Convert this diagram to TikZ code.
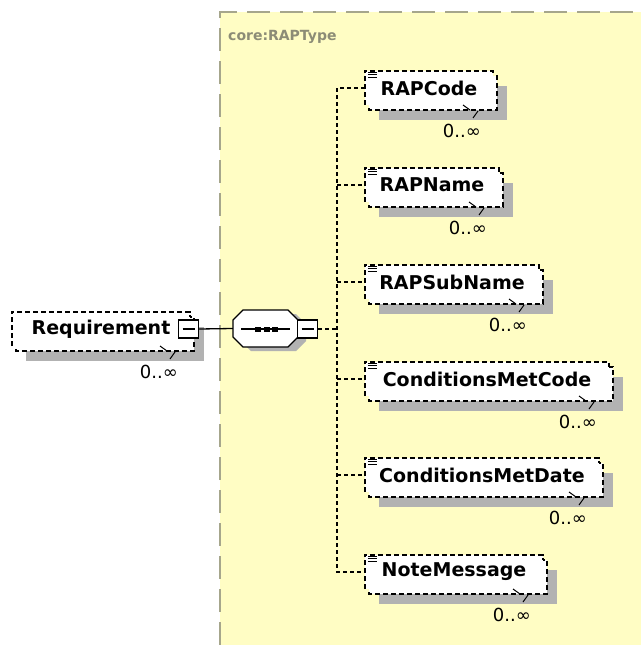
\documentclass[tikz,border=0pt]{standalone}
\usepackage{fontspec}
\setmainfont{DejaVu Sans}
\usetikzlibrary{calc}
\definecolor{bgy}{RGB}{255,253,196}
\definecolor{frameg}{RGB}{166,166,140}
\definecolor{shad}{RGB}{178,178,178}
\definecolor{typeg}{RGB}{140,140,118}
\newcommand\xsElem[5]{%
  \fill[shad] (#3+14,#4-2) rectangle (#5+14,#4+32);
  \draw[elemline,fill=white] (#3+4,#4-12) rectangle (#5+4,#4+22);
  \node[elem, minimum width={#5-(#3)}] (#1) at ({(#3+#5)/2},#4) {#2};
  \draw[elemline] (#1.south west) -- (#1.north west) -- (#1.north east) -- ++(0,5);
  \draw[tickline] (#5+4-34,#4+22-5) -- (#5+4-27,#4+22);
  \draw[tickline] (#5+4-19,#4+22+1) -- (#5+4-24,#4+22+8);
  \node[mult, anchor=east] (#1m) at (#5-12,#4+43) {0..∞};
}
\newcommand\xsIcon[1]{%
  \foreach \d in {1.5,4,6.5} \draw[line width=0.9pt] ([shift={(3,\d)}]#1.north west) -- ++(9,0);
}
\begin{document}
\begin{tikzpicture}[x=1pt,y=-1pt,
  elemline/.style={draw=black, line width=1.5pt, dash pattern=on 5pt off 3pt},
  elem/.style={fill=white, minimum height=34pt, inner sep=0pt,
    font=\bfseries\fontsize{19}{22}\selectfont},
  tickline/.style={draw=black, line width=1pt},
  mult/.style={inner sep=0pt, font=\fontsize{18}{20}\selectfont},
  conn/.style={draw=black, line width=1.3pt, dash pattern=on 4pt off 3pt},
  solidconn/.style={draw=black, line width=1.3pt},
  minusbox/.style={draw=black, fill=white, line width=1.3pt, minimum width=20pt,
    minimum height=18pt, inner sep=0pt,
    path picture={\draw[line width=1.2pt] ([xshift=4pt]path picture bounding box.west) -- ([xshift=-4pt]path picture bounding box.east);}}
]
\useasboundingbox (0,0) rectangle (641,645);
% type area
\fill[bgy] (220,12) rectangle (641,645);
\draw[frameg, line width=2.6pt, dash pattern=on 23pt off 10pt] (220,645) -- (220,12) -- (641,12);
\node[text=typeg, font=\bfseries\fontsize{14}{16}\selectfont, anchor=west, inner sep=0pt] (typelabel) at (228,37) {core:RAPType};
% Requirement
\xsElem{req}{Requirement}{12}{329}{190}
\node[minusbox] (reqminus) at (188.5,329) {};
% sequence compositor
\fill[shad] (251,314) -- (296,314) -- (306,324) -- (306,341) -- (296,351) -- (251,351) -- (241,341) -- (241,324) -- cycle;
\draw[line width=1.3pt, fill=white] (243,310) -- (288,310) -- (298,320) -- (298,337) -- (288,347) -- (243,347) -- (233,337) -- (233,320) -- cycle;
\node[minimum width=65pt, minimum height=37pt, inner sep=0pt] (seq) at (265.5,328.5) {};
\draw[line width=1.3pt] (241,329) -- (290,329);
\foreach \xx in {258,266.5,275} \fill (\xx-3,326.5) rectangle (\xx+3,331.5);
\node[minusbox] (seqminus) at (307.5,329) {};
\coordinate (bus) at (337,329);
% children
\xsElem{rapcode}{RAPCode}{365}{88}{493}
\xsElem{rapname}{RAPName}{365}{185}{499}
\xsElem{rapsubname}{RAPSubName}{365}{282}{539}
\xsElem{cmcode}{ConditionsMetCode}{365}{379}{609}
\xsElem{cmdate}{ConditionsMetDate}{365}{475}{599}
\xsElem{notemsg}{NoteMessage}{365}{572}{543}
\xsIcon{rapcode}
\xsIcon{rapname}
\xsIcon{rapsubname}
\xsIcon{cmcode}
\xsIcon{cmdate}
\xsIcon{notemsg}
% connectors
\draw[solidconn] (reqminus.east) -- (seq.west);
\draw[conn] (seqminus.east) -- (bus);
\draw[conn] (rapcode.west) -- (rapcode.west -| bus) -- (notemsg.west -| bus) -- (notemsg.west);
\draw[conn] (rapname.west -| bus) -- (rapname.west);
\draw[conn] (rapsubname.west -| bus) -- (rapsubname.west);
\draw[conn] (cmcode.west -| bus) -- (cmcode.west);
\draw[conn] (cmdate.west -| bus) -- (cmdate.west);
\end{tikzpicture}
\end{document}
